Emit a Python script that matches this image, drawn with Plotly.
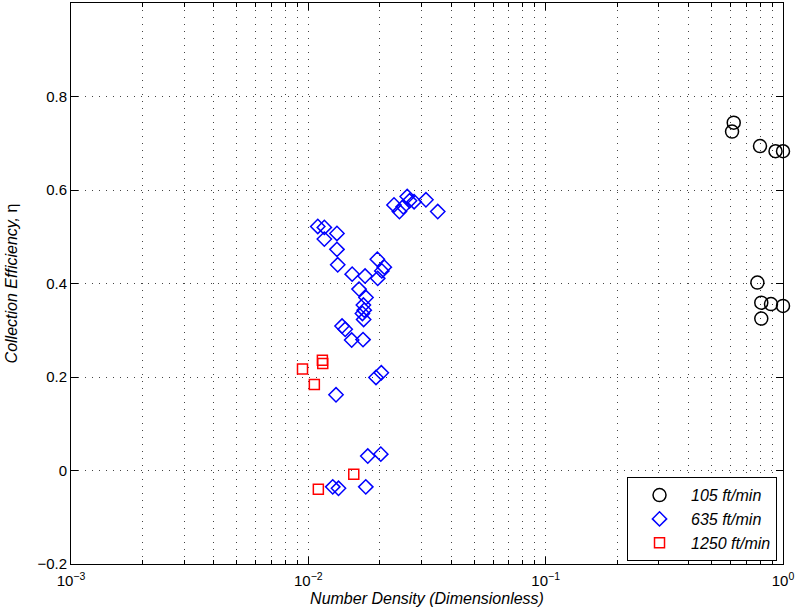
import plotly.graph_objects as go

# Collection efficiency vs. number density for three face velocities
x_105 = [0.62, 0.61, 0.80, 0.93, 1.0, 0.78, 0.81, 0.89, 1.0, 0.81]
y_105 = [0.744, 0.725, 0.694, 0.683, 0.683, 0.402, 0.359, 0.356, 0.352, 0.325]

x_635 = [0.01096, 0.01168, 0.0132, 0.01168, 0.0132, 0.0133, 0.0153, 0.01734,
         0.01953, 0.0209, 0.0204, 0.0196, 0.01635, 0.0175, 0.01706, 0.0172,
         0.0169, 0.0171, 0.01387, 0.0143, 0.01523, 0.0170, 0.01928, 0.0203,
         0.01308, 0.0178, 0.0202, 0.01267, 0.0134, 0.01746,
         0.02296, 0.0242, 0.0251, 0.0261, 0.0267, 0.0279, 0.0313, 0.0351]
y_635 = [0.522, 0.520, 0.507, 0.495, 0.473, 0.440, 0.420, 0.416,
         0.452, 0.435, 0.427, 0.411, 0.388, 0.370, 0.354, 0.343,
         0.336, 0.323, 0.309, 0.302, 0.279, 0.280, 0.199, 0.209,
         0.162, 0.031, 0.035, -0.035, -0.038, -0.035,
         0.568, 0.554, 0.564, 0.586, 0.577, 0.575, 0.579, 0.554]

x_1250 = [0.01146, 0.0115, 0.00945, 0.0106, 0.01102, 0.01554]
y_1250 = [0.236, 0.229, 0.217, 0.184, -0.040, -0.008]

x_tickvals = [0.001, 0.01, 0.1, 1]
x_ticktext = ["10<sup>\u22123</sup>", "10<sup>\u22122</sup>", "10<sup>\u22121</sup>", "10<sup>0</sup>"]
y_tickvals = [-0.2, 0, 0.2, 0.4, 0.6, 0.8]
y_ticktext = ["\u22120.2", "0", "0.2", "0.4", "0.6", "0.8"]

# minor log positions 2..9 within each decade
x_minor = [m * d for d in (0.001, 0.01, 0.1) for m in range(2, 10)]

FONT = "Liberation Sans, Arial, Helvetica, sans-serif"
GRID = dict(gridcolor="#444", gridwidth=1, griddash="1px,6px")

fig = go.Figure()
fig.add_trace(go.Scatter(
    x=x_105, y=y_105, mode="markers", name="<i>105 ft/min</i>", cliponaxis=False,
    marker=dict(symbol="circle-open", size=13, color="black", line=dict(width=1.5, color="black")),
))
fig.add_trace(go.Scatter(
    x=x_635, y=y_635, mode="markers", name="<i>635 ft/min</i>", cliponaxis=False,
    marker=dict(symbol="diamond-open", size=11, color="blue", line=dict(width=1.5, color="blue")),
))
fig.add_trace(go.Scatter(
    x=x_1250, y=y_1250, mode="markers", name="<i>1250 ft/min</i>", cliponaxis=False,
    marker=dict(symbol="square-open", size=10, color="red", line=dict(width=1.5, color="red")),
))

fig.update_layout(
    width=797, height=615,
    margin=dict(l=71, r=14, t=3, b=51),
    paper_bgcolor="white", plot_bgcolor="white",
    font=dict(family=FONT, size=15, color="black"),
    showlegend=True,
    legend=dict(
        x=0.9916, y=0.005, xanchor="right", yanchor="bottom",
        bgcolor="white", bordercolor="black", borderwidth=1,
        font=dict(family=FONT, size=16, color="black"),
        itemwidth=53,
    ),
    xaxis=dict(
        type="log", range=[-3, 0],
        tickmode="array", tickvals=x_tickvals, ticktext=x_ticktext,
        ticks="inside", ticklen=7, tickwidth=1, tickcolor="black",
        ticklabelstandoff=3,
        showline=True, linecolor="black", linewidth=1, mirror="ticks",
        showgrid=True, **GRID,
        zeroline=False,
        minor=dict(tickmode="array", tickvals=x_minor,
                   ticks="inside", ticklen=4, tickcolor="black", showgrid=True,
                   gridcolor="#444", griddash="1px,6px", gridwidth=1),
        title=dict(text="<i>Number Density (Dimensionless)</i>", font=dict(size=16), standoff=4),
        tickfont=dict(size=15),
    ),
    yaxis=dict(
        range=[-0.2, 1.0],
        tickmode="array", tickvals=y_tickvals, ticktext=y_ticktext,
        ticks="inside", ticklen=7, tickwidth=1, tickcolor="black",
        showline=True, linecolor="black", linewidth=1, mirror="ticks",
        showgrid=True, **GRID,
        zeroline=False,
        title=dict(text="<i>Collection Efficiency, </i>\u03b7", font=dict(size=16)),
        tickfont=dict(size=15),
    ),
)

fig.write_html("out.html")
